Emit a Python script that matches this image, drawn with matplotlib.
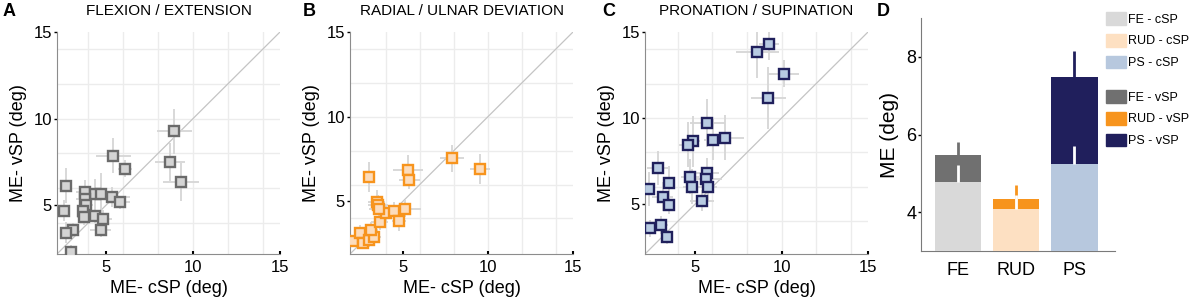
"""
Erro médio (ME) por sujeito: cSP vs vSP, para os três graus de liberdade do punho,
mais o painel de médias em barras.
"""

import matplotlib.pyplot as plt
from matplotlib.patches import Patch

plt.rcParams["font.family"] = ["Liberation Sans", "DejaVu Sans"]

# -----------------------------------------------------------------
# dados
# -----------------------------------------------------------------
fe_csp = [8.93, 8.68, 9.31, 5.42, 6.13, 2.74, 3.79, 4.37, 4.71, 3.79, 5.38,
          5.80, 3.89, 2.60, 3.71, 3.75, 4.37, 4.84, 3.14, 2.72, 4.71, 3.02]
fe_vsp = [9.28, 7.50, 6.34, 7.87, 7.12, 6.13, 5.76, 5.64, 5.68, 5.37, 5.49,
          5.17, 5.02, 4.69, 4.67, 4.36, 4.40, 4.23, 3.57, 3.43, 3.59, 2.31]
fe_csp_err = [1.0, 0.85, 1.05, 1.0, 0.4, 0.3, 0.5, 0.6, 0.4, 0.5, 1.0,
              0.6, 0.4, 0.3, 0.3, 0.4, 0.6, 0.5, 0.3, 0.3, 0.6, 0.3]
fe_vsp_err = [1.3, 1.1, 1.1, 1.0, 0.5, 1.0, 0.7, 0.9, 1.2, 0.6, 0.6,
              0.4, 0.5, 0.6, 0.5, 0.5, 0.4, 0.5, 0.4, 0.6, 0.4, 0.4]

rud_csp = [2.09, 2.48, 2.67, 2.99, 3.31, 3.16, 3.65, 4.00, 3.48, 3.55, 3.62,
           4.48, 5.16, 4.77, 2.99, 5.31, 5.39, 7.91, 9.52]
rud_vsp = [2.64, 3.12, 2.56, 2.70, 2.89, 3.31, 3.80, 4.30, 4.98, 4.78, 4.58,
           4.44, 4.58, 3.84, 6.44, 6.83, 6.24, 7.54, 6.92]
rud_csp_err = [0.3, 0.3, 0.3, 0.4, 0.4, 0.4, 0.5, 0.6, 0.5, 0.6, 0.6,
               0.6, 0.9, 0.4, 0.3, 0.9, 0.6, 0.7, 0.6]
rud_vsp_err = [0.3, 0.5, 0.3, 0.4, 0.4, 0.5, 0.5, 0.5, 0.7, 0.6, 0.5,
               0.5, 0.5, 0.6, 0.9, 0.9, 0.5, 0.8, 0.9]

ps_csp = [9.27, 8.60, 10.13, 9.23, 5.71, 6.02, 6.73, 4.87, 4.56, 2.83, 2.31, 3.46,
          3.13, 3.46, 4.71, 4.81, 5.67, 5.63, 5.77, 5.38, 2.40, 3.02, 3.40]
ps_vsp = [14.29, 13.81, 12.58, 11.17, 9.71, 8.74, 8.85, 8.64, 8.45, 7.11, 5.88, 6.21,
          5.40, 4.95, 6.60, 6.02, 6.80, 6.47, 6.02, 5.20, 3.59, 3.79, 3.07]
ps_csp_err = [0.6, 1.25, 0.9, 1.0, 1.0, 0.5, 1.1, 0.4, 0.5, 0.6, 0.3, 0.4,
              0.6, 0.4, 0.5, 0.5, 0.7, 0.9, 0.5, 0.7, 0.3, 0.4, 0.3]
ps_vsp_err = [0.9, 1.5, 0.8, 1.8, 1.4, 1.2, 1.3, 1.5, 1.3, 1.0, 1.0, 1.0,
              0.8, 0.5, 1.0, 1.0, 0.9, 0.5, 0.9, 0.6, 0.5, 0.5, 0.4]

# médias (painel D)
grupos = ["FE", "RUD", "PS"]
media_csp = [4.78, 4.07, 5.23]
media_vsp = [5.47, 4.35, 7.49]
err_csp = [0.43, 0.37, 0.48]
err_vsp = [0.34, 0.35, 0.65]

cor_borda = ["#6b6b6b", "#f7941d", "#20205c"]
cor_face = ["#d4d4d4", "#fcdcbc", "#b8cbe2"]
cor_csp = ["#d9d9d9", "#fde0c2", "#b7c8de"]
cor_vsp = ["#707070", "#f7941d", "#201f5c"]

# -----------------------------------------------------------------
# figura
# -----------------------------------------------------------------
W, H = 1192, 302
fig = plt.figure(figsize=(W / 100, H / 100), dpi=100)


def eixo(x0, x1, y0, y1):
    return fig.add_axes([x0 / W, 1 - y1 / H, (x1 - x0) / W, (y1 - y0) / H])


paineis = [
    ("A", 3, "FLEXION / EXTENSION", 57, 2.2, fe_csp, fe_vsp, fe_csp_err, fe_vsp_err),
    ("B", 303, "RADIAL / ULNAR DEVIATION", 350, 1.9, rud_csp, rud_vsp, rud_csp_err, rud_vsp_err),
    ("C", 602, "PRONATION / SUPINATION", 645, 2.1, ps_csp, ps_vsp, ps_csp_err, ps_vsp_err),
]

for k, (letra, xl, titulo, x0, lim0, xs, ys, ex, ey) in enumerate(paineis):
    ax = eixo(x0, x0 + 223, 32, 254)
    ax.set_xlim(lim0, 15)
    ax.set_ylim(lim0, 15)
    for v in range(4, 15, 2):
        ax.axvline(v, color="#ececec", lw=1, zorder=0)
        ax.axhline(v, color="#ececec", lw=1, zorder=0)
    ax.plot([lim0, 15], [lim0, 15], color="#c4c4c4", lw=0.9, zorder=1)
    ax.errorbar(xs, ys, xerr=ex, yerr=ey, fmt="none", ecolor="#d6d6d6",
                elinewidth=1.3, capsize=0, zorder=2)
    ax.plot(xs, ys, "s", ms=6.5, mew=1.7, mec=cor_borda[k], mfc=cor_face[k],
            ls="none", zorder=3)
    ax.set_xticks([5, 10, 15])
    ax.set_yticks([5, 10, 15])
    ax.tick_params(axis="y", direction="out", length=2.5, width=1, labelsize=12, pad=1)
    ax.tick_params(axis="x", direction="in", length=2, width=1.5, labelsize=12, pad=4)
    for s in ["top", "right"]:
        ax.spines[s].set_visible(False)
    for s in ["left", "bottom"]:
        ax.spines[s].set_color("#8c8c8c")
    ax.set_xlabel("ME- cSP (deg)", fontsize=13, labelpad=4)
    ax.set_ylabel("ME- vSP (deg)", fontsize=13, labelpad=5)
    ax.text(0.5, 1.095, titulo, transform=ax.transAxes, ha="center", va="center",
            fontsize=11)
    fig.text(xl / W, 1 - 11 / H, letra, fontsize=13, fontweight="bold",
             ha="left", va="center")

# painel D: barras sobrepostas (vSP atrás, cSP na frente)
axd = eixo(921, 1115, 18, 251)
pos = [1, 2, 3]
axd.bar(pos, media_vsp, width=0.8, color=cor_vsp, zorder=1)
axd.errorbar(pos, media_vsp, yerr=[[0, 0, 0], err_vsp], fmt="none",
             ecolor=cor_vsp, elinewidth=2, capsize=0, zorder=2)
axd.bar(pos, media_csp, width=0.8, color=cor_csp, zorder=3)
axd.errorbar(pos, media_csp, yerr=[[0, 0, 0], err_csp], fmt="none",
             ecolor="white", elinewidth=2, capsize=0, zorder=4)
axd.set_xlim(0.36, 3.7)
axd.set_ylim(3, 9)
axd.set_yticks([4, 6, 8])
axd.set_xticks(pos)
axd.set_xticklabels(grupos)
axd.tick_params(axis="y", direction="out", length=2.5, width=1, labelsize=13, pad=1)
axd.tick_params(axis="x", length=0, labelsize=13, pad=8)
for s in ["top", "right"]:
    axd.spines[s].set_visible(False)
for s in ["left", "bottom"]:
    axd.spines[s].set_color("#7a7a7a")
axd.set_ylabel("ME (deg)", fontsize=15, labelpad=5)
fig.text(877 / W, 1 - 11 / H, "D", fontsize=13, fontweight="bold", ha="left", va="center")

# duas legendas: cSP em cima, vSP embaixo (fig.legend já guarda as duas)
estilo_leg = dict(loc="upper left", frameon=False, fontsize=9, handlelength=1.6,
                  handleheight=1.2, handletextpad=0.2, labelspacing=0.65,
                  borderaxespad=0, borderpad=0)
fig.legend([Patch(color=c) for c in cor_csp], [g + " - cSP" for g in grupos],
           bbox_to_anchor=(1106 / W, 1 - 12 / H), **estilo_leg)
fig.legend([Patch(color=c) for c in cor_vsp], [g + " - vSP" for g in grupos],
           bbox_to_anchor=(1106 / W, 1 - 90 / H), **estilo_leg)

plt.savefig("out.png", dpi=100)
